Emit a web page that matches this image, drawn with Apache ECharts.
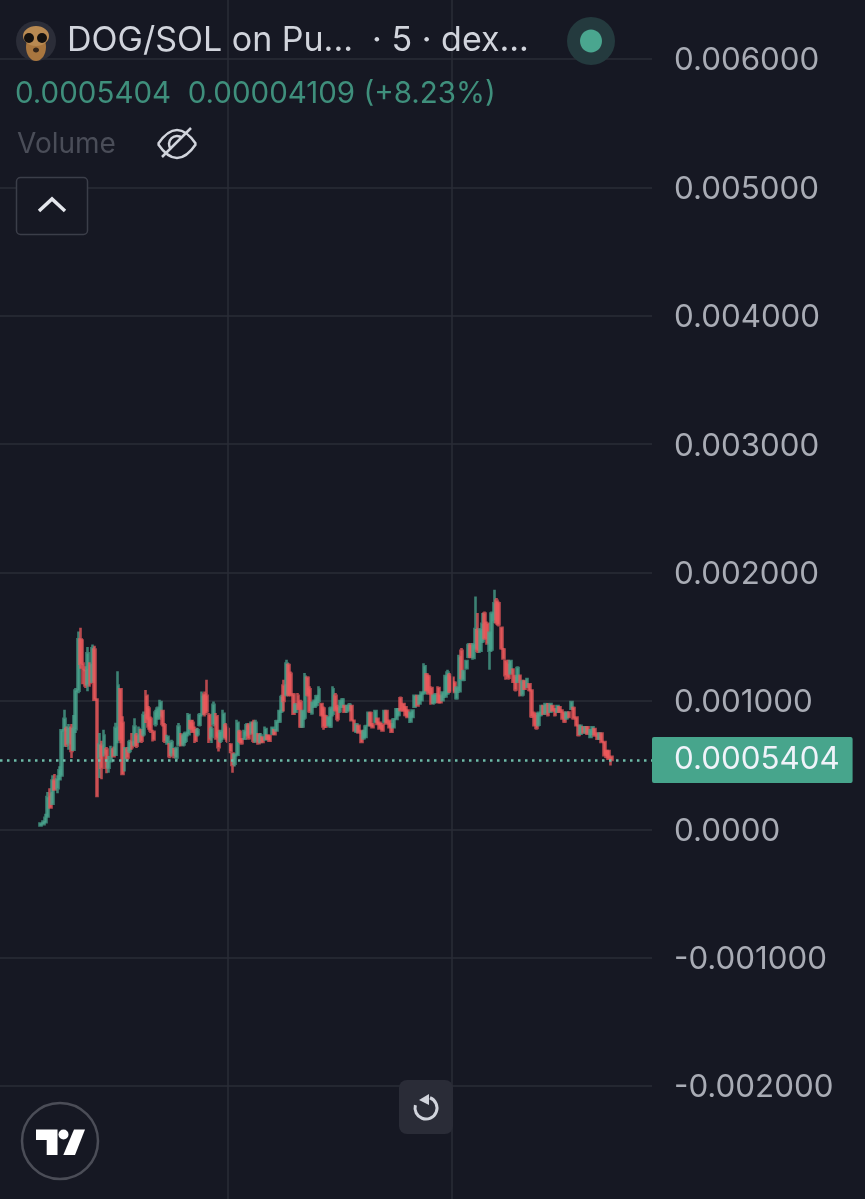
<!DOCTYPE html>
<html>
<head>
<meta charset="utf-8">
<style>
  html, body { margin: 0; padding: 0; background: #161823; }
  #main { width: 865px; height: 1199px; filter: blur(0.6px); }
</style>
<script src="https://cdn.jsdelivr.net/npm/echarts@6/dist/echarts.min.js"></script>
</head>
<body>
<div id="main"></div>
<script>
// prices are in millionths of SOL (1000 = 0.001000)
var openPrices = [
  30,40,55,100,280,200,380,320,390,420,
  770,780,670,790,620,780,1080,1480,1290,1240,
  1130,1280,1150,1400,1010,560,650,590,620,480,
  530,620,580,700,1090,830,540,620,610,680,
  660,730,690,770,740,1040,940,860,760,820,
  870,880,920,810,670,660,590,620,560,660,
  730,660,690,740,840,830,780,740,815,900,
  1050,1040,890,720,820,880,750,690,720,810,
  780,660,590,510,580,760,700,705,740,810,
  750,830,690,740,680,715,700,730,725,745,
  770,770,840,920,1120,1050,1280,1210,1050,915,
  1040,990,800,870,1180,1090,905,955,970,1000,
  975,940,880,815,800,900,1040,950,920,955,
  960,920,930,960,845,760,805,765,710,720,
  810,905,815,835,860,830,815,835,920,845,
  815,795,860,890,1020,975,950,925,840,875,
  955,1035,980,1005,1060,1205,1190,1100,985,995,
  1100,1040,1005,1035,1060,1200,1180,1140,1020,1075,
  1390,1165,1255,1345,1435,1335,1410,1550,1390,1465,
  1680,1600,1390,1400,1630,1780,1760,1570,1400,1310,
  1290,1215,1245,1190,1150,1195,1050,1155,1110,1130,
  1080,905,890,815,890,960,905,970,915,960,
  935,915,950,925,905,865,910,940,945,870,
  805,745,795,755,795,720,745,780,745,705,
  745,680,610,610,565
];
var closePrices = [
  45,55,90,250,170,380,310,390,460,770,
  860,660,790,610,780,1080,1480,1290,1240,1120,
  1370,1140,1410,1010,260,660,480,730,480,530,
  620,570,790,1120,700,430,630,560,680,640,
  800,650,780,690,890,860,800,770,700,910,
  940,990,820,690,720,570,680,570,630,800,
  660,730,750,890,790,760,690,770,890,1040,
  900,920,700,780,970,720,640,760,900,720,
  690,610,500,580,830,690,670,760,810,710,
  830,690,830,670,730,680,780,705,690,790,
  740,840,920,1030,1000,1290,1050,1050,900,970,
  940,800,920,1190,1050,920,985,1000,1035,1090,
  890,800,800,870,940,1090,930,860,995,1010,
  915,955,970,850,770,815,755,680,760,800,
  905,810,795,920,820,785,770,920,825,795,
  760,855,935,935,930,925,890,875,905,925,
  1040,965,1040,1065,1270,1085,1060,985,1040,1050,
  990,990,1065,1190,1220,1075,1085,1070,1100,1340,
  1180,1230,1310,1435,1345,1435,1560,1390,1550,1600,
  1490,1450,1530,1680,1760,1610,1595,1410,1330,1200,
  1180,1310,1150,1090,1255,1050,1150,1095,1170,1085,
  880,815,790,905,960,900,975,890,975,925,
  890,960,915,865,840,910,875,990,865,810,
  735,805,755,795,745,770,795,730,705,745,
  680,580,565,550,540.4
];
var lowPrices = [
  25,30,50,95,160,190,300,280,380,410,
  640,640,620,555,610,750,1060,1250,1130,1100,
  1075,1110,1140,1000,250,400,390,567,437,440,
  520,560,570,670,670,420,450,540,593,619,
  645,632,671,671,723,827,775,749,684,801,
  853,853,801,671,658,554,567,554,541,645,
  645,645,671,723,775,749,671,723,801,879,
  879,905,671,671,801,697,606,671,697,697,
  671,593,441,489,567,671,658,697,723,697,
  736,671,671,658,671,671,697,697,684,736,
  736,762,827,905,918,1035,1035,1035,892,905,
  931,788,788,853,1035,905,892,944,957,983,
  879,775,788,801,788,879,918,840,905,944,
  905,905,918,840,762,749,749,671,697,710,
  801,801,788,827,814,775,762,827,814,788,
  749,788,853,879,918,918,879,866,827,866,
  944,957,970,996,1048,1074,1048,970,970,983,
  983,983,996,1022,1048,1061,1074,1061,1009,1061,
  1165,1152,1243,1333,1333,1320,1398,1372,1372,1450,
  1476,1437,1243,1385,1606,1593,1580,1398,1320,1165,
  1165,1204,1139,1074,1139,1035,1035,1087,1100,1074,
  866,801,775,801,879,892,892,879,905,918,
  879,905,905,853,827,853,866,931,853,801,
  723,736,749,749,736,710,736,723,697,697,
  671,567,554,541,497
];
var highPrices = [
  50,70,120,290,320,420,430,420,490,780,
  930,800,820,820,890,1100,1540,1570,1480,1270,
  1420,1300,1440,1430,1020,750,690,775,640,570,
  650,645,830,1230,1100,880,640,640,697,749,
  865,749,801,775,918,1085,960,879,775,931,
  957,1009,931,827,736,671,697,632,645,827,
  749,749,762,905,853,853,801,788,905,1074,
  1074,1165,905,801,996,905,775,775,931,827,
  801,671,593,593,853,775,710,775,827,827,
  840,853,853,749,749,723,801,736,736,801,
  775,853,931,1048,1165,1320,1294,1229,1061,983,
  1061,1009,931,1217,1191,1113,996,1009,1048,1113,
  983,957,892,879,957,1113,1061,970,1009,1022,
  970,970,983,970,853,827,814,775,775,814,
  918,918,827,931,866,840,827,931,931,853,
  827,866,944,944,1035,983,957,931,918,931,
  1048,1048,1048,1074,1294,1217,1204,1113,1048,1061,
  1113,1048,1074,1204,1243,1217,1191,1152,1113,1359,
  1411,1243,1320,1450,1450,1450,1814,1684,1567,1684,
  1697,1619,1541,1697,1866,1801,1775,1580,1411,1320,
  1320,1320,1255,1204,1269,1204,1165,1165,1178,1139,
  1087,918,905,918,970,970,983,983,983,970,
  944,970,957,931,918,918,918,996,957,879,
  814,814,801,801,801,775,801,788,749,749,
  749,684,619,619,567
];

var tickValues = [6000, 5000, 4000, 3000, 2000, 1000, 0, -1000, -2000];
var tickLabels = ['0.006000', '0.005000', '0.004000', '0.003000', '0.002000', '0.001000', '0.0000', '-0.001000', '-0.002000'];
var lastPrice = 540.4;
var lastPriceLabel = '0.0005404';

var titleText = 'DOG/SOL on Pu...  \u00b7 5 \u00b7 dex...';
var quoteText = '0.0005404  0.00004109 (+8.23%)';
var volumeText = 'Volume';

// empty slots around the candles, the chart has space left and right
var slotsBefore = 17;
var slotsAfter = 17;
var timeLineSlots = ['c80', 'c176'];

var FONT = 'Inter';
var UP = '#4aa68f';
var DOWN = '#ef5a5c';
var GRID = '#2a2c37';

var categories = [];
var candles = [];
for (var s = 0; s < slotsBefore; s++) {
  categories.push('b' + s);
  candles.push(['-', '-', '-', '-']);
}
for (var i = 0; i < openPrices.length; i++) {
  categories.push('c' + i);
  candles.push([openPrices[i], closePrices[i], lowPrices[i], highPrices[i]]);
}
for (var a = 0; a < slotsAfter; a++) {
  categories.push('a' + a);
  candles.push(['-', '-', '-', '-']);
}

var chart = echarts.init(document.getElementById('main'), null, { renderer: 'canvas' });

var overlay = [
  // avatar
  { type: 'circle', shape: { cx: 36, cy: 41, r: 20 }, style: { fill: '#2b2d38' } },
  { type: 'ellipse', shape: { cx: 36, cy: 47, rx: 10, ry: 14 }, style: { fill: '#a8763f' } },
  { type: 'ellipse', shape: { cx: 36, cy: 36, rx: 13, ry: 10 }, style: { fill: '#b98a52' } },
  { type: 'circle', shape: { cx: 29, cy: 38, r: 5 }, style: { fill: '#14110f' } },
  { type: 'circle', shape: { cx: 42, cy: 38, r: 5 }, style: { fill: '#14110f' } },
  { type: 'ellipse', shape: { cx: 36, cy: 50, rx: 3, ry: 2.5 }, style: { fill: '#33251a' } },
  // title rows
  { type: 'text', x: 67, y: 41, style: { text: titleText, fill: '#d1d4dc', font: '34px ' + FONT, textVerticalAlign: 'middle' } },
  { type: 'text', x: 15, y: 94, style: { text: quoteText, fill: '#3f8f7c', font: '29.5px ' + FONT, textVerticalAlign: 'middle' } },
  { type: 'text', x: 17, y: 145, style: { text: volumeText, fill: '#4a4d58', font: '28px ' + FONT, textVerticalAlign: 'middle' } },
  // live dot
  { type: 'circle', shape: { cx: 591, cy: 41, r: 24 }, style: { fill: '#243a3e' } },
  { type: 'ellipse', shape: { cx: 591, cy: 41, rx: 11, ry: 11.5 }, style: { fill: UP } },
  // hidden-volume eye
  { type: 'bezierCurve', shape: { x1: 158, y1: 144, x2: 196, y2: 144, cpx1: 177, cpy1: 116 }, style: { fill: 'none', stroke: '#d1d4dc', lineWidth: 2.5 } },
  { type: 'bezierCurve', shape: { x1: 158, y1: 144, x2: 196, y2: 144, cpx1: 177, cpy1: 172 }, style: { fill: 'none', stroke: '#d1d4dc', lineWidth: 2.5 } },
  { type: 'arc', shape: { cx: 177, cy: 144, r: 8, startAngle: 2.4, endAngle: 5.4, clockwise: true }, style: { fill: 'none', stroke: '#d1d4dc', lineWidth: 2.5 } },
  { type: 'line', shape: { x1: 162, y1: 157, x2: 191, y2: 128 }, style: { stroke: '#d1d4dc', lineWidth: 2.5 } },
  // collapse button
  { type: 'rect', shape: { x: 16.5, y: 177.5, width: 71, height: 57, r: 4 }, style: { fill: '#161823', stroke: '#3b3e49', lineWidth: 1.5 } },
  { type: 'polyline', shape: { points: [[39, 211], [52, 199], [65, 211]] }, style: { fill: 'none', stroke: '#e4e6ec', lineWidth: 3.5 } },
  // reset button
  { type: 'rect', shape: { x: 399, y: 1080, width: 54, height: 54, r: 8 }, style: { fill: '#2a2c37' } },
  { type: 'arc', shape: { cx: 426, cy: 1108, r: 11, startAngle: -1.2, endAngle: 3.4, clockwise: true }, style: { fill: 'none', stroke: '#d1d4dc', lineWidth: 3 } },
  { type: 'polygon', shape: { points: [[429, 1094], [419, 1100], [429, 1105]] }, style: { fill: '#d1d4dc' } },
  // tradingview badge
  { type: 'circle', shape: { cx: 60, cy: 1141, r: 38 }, style: { fill: 'none', stroke: '#4b4d57', lineWidth: 2.5 } },
  { type: 'polygon', shape: { points: [[36, 1129.5], [57.5, 1129.5], [57.5, 1155], [46.7, 1155], [46.7, 1140], [36, 1140]] }, style: { fill: '#ffffff' } },
  { type: 'circle', shape: { cx: 63.5, cy: 1134.5, r: 5 }, style: { fill: '#ffffff' } },
  { type: 'polygon', shape: { points: [[74, 1129.5], [85, 1129.5], [75, 1155], [63.3, 1155]] }, style: { fill: '#ffffff' } }
];
// later elements sit on top, all of them above the grid lines
overlay.forEach(function (el, n) { el.z = 100 + n; });

var option = {
  animation: false,
  backgroundColor: '#161823',
  // the grid runs one tick past the picture so the vertical lines reach both edges
  grid: { left: 0, right: 213, top: -69.4, bottom: -15.4, outerBoundsMode: 'none' },
  xAxis: {
    type: 'category',
    data: categories,
    boundaryGap: true,
    axisLine: { show: false },
    axisTick: { show: false },
    axisLabel: { show: false },
    splitLine: { show: false }
  },
  yAxis: {
    type: 'value',
    position: 'right',
    min: -3000,
    max: 7000,
    interval: 1000,
    axisLine: { show: false },
    axisTick: { show: false },
    splitLine: { show: true, lineStyle: { color: GRID, width: 1.5 } },
    axisLabel: {
      margin: 22,
      color: '#a9acb5',
      fontFamily: FONT,
      fontSize: 31.3,
      // nudges the text 2px below its grid line, as in the app
      verticalAlign: 'top',
      lineHeight: 4,
      formatter: function (v) {
        var n = tickValues.indexOf(v);
        return n >= 0 ? tickLabels[n] : '';
      }
    }
  },
  series: [{
    // only carries the two vertical time lines, under the candles
    type: 'line',
    data: [],
    z: 1,
    markLine: {
      silent: true,
      symbol: 'none',
      animation: false,
      label: { show: false },
      lineStyle: { color: GRID, type: 'solid', width: 1.5 },
      data: timeLineSlots.map(function (c) { return { xAxis: c }; })
    }
  }, {
    type: 'candlestick',
    data: candles,
    z: 2,
    barWidth: 2.4,
    itemStyle: {
      color: UP,
      color0: DOWN,
      borderColor: UP,
      borderColor0: DOWN,
      borderWidth: 2.6,
      opacity: 0.75
    },
    markLine: {
      silent: true,
      symbol: 'none',
      animation: false,
      data: [{ yAxis: lastPrice }],
      lineStyle: { color: '#6dbba8', type: [2.5, 4.5], width: 2.5 },
      label: {
        show: true,
        position: 'end',
        distance: 0,
        formatter: lastPriceLabel,
        color: '#f0f3fa',
        fontFamily: FONT,
        fontSize: 31.3,
        backgroundColor: '#47a58c',
        borderRadius: 2,
        padding: [13, 13, 2, 22]
      }
    }
  }],
  graphic: overlay
};

chart.setOption(option);
</script>
</body>
</html>
